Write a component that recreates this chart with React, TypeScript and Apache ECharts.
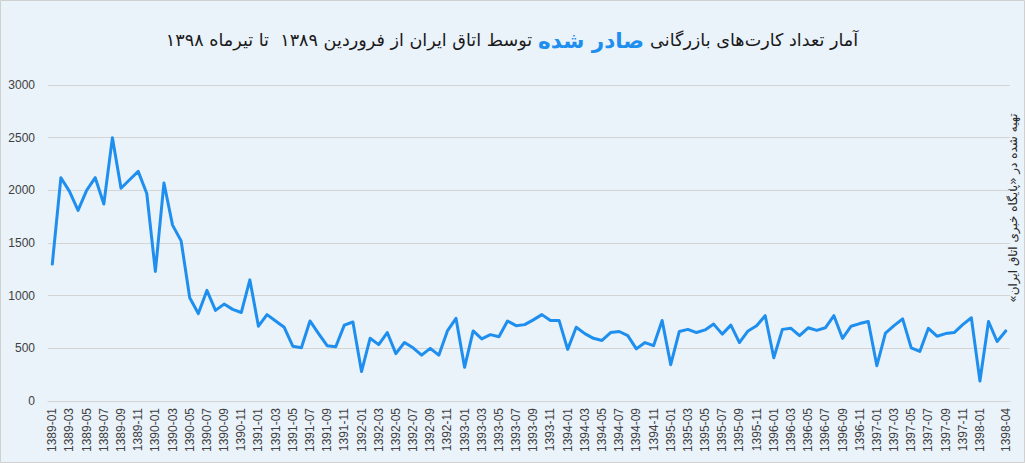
import React, { useEffect, useRef } from "react";
import * as echarts from "echarts";

const YEARS = [1389, 1390, 1391, 1392, 1393, 1394, 1395, 1396, 1397, 1398];
const LAST_MONTH_1398 = 4;

function buildMonths(): string[] {
  const out: string[] = [];
  for (const y of YEARS) {
    const maxM = y === 1398 ? LAST_MONTH_1398 : 12;
    for (let m = 1; m <= maxM; m++) out.push(`${y}-${m < 10 ? "0" + m : m}`);
  }
  return out;
}
const categories = buildMonths();

const issuedCards = [
  1300, 2120, 1990, 1810, 2000, 2120, 1870, 2500, 2020, 2100, 2180, 1970,
  1230, 2070, 1670, 1520, 980, 830, 1050, 860, 920, 870, 840, 1150,
  710, 820, 760, 700, 520, 505, 760, 640, 525, 515, 720, 750,
  280, 595, 535, 650, 450, 555, 505, 435, 500, 435, 665, 785,
  320, 665, 590, 630, 610, 760, 715, 725, 770, 820, 765, 765,
  490, 700, 640, 595, 575, 650, 660, 620, 495, 555, 525, 765,
  345, 660, 680, 650, 675, 730, 635, 720, 555, 665, 715, 810,
  410, 680, 690, 620, 695, 670, 695, 810, 595, 710, 735, 755,
  335, 645, 715, 780, 505, 470, 690, 615, 640, 650, 725, 790,
  190, 755, 565, 665,
];

const yTicks = { min: 0, max: 3000, interval: 500 };

const RLM = "\u200F";
// Persian (RTL) title: start part sits at the right, end part at the left
const titleStart = "آمار تعداد کارت‌های بازرگانی";
const titleHighlight = "صادر شده";
const titleEnd = "توسط اتاق ایران از فروردین ۱۳۸۹  تا تیرماه ۱۳۹۸";
const sourceNote = "تهیه شده در «پایگاه خبری اتاق ایران»";

export default function App() {
  const ref = useRef<HTMLDivElement>(null);
  useEffect(() => {
    if (!ref.current) return;
    const chart = echarts.init(ref.current, undefined, { renderer: "svg" });
    const axisFont = "Liberation Sans, Arial, sans-serif";
    const faFont = "DejaVu Sans, Noto Sans, sans-serif";
    chart.setOption({
      animation: false,
      backgroundColor: "#EAF2FA",
      grid: { left: 48, right: 15, top: 85, bottom: 62, containLabel: false },
      xAxis: {
        type: "category",
        data: categories,
        boundaryGap: true,
        axisLine: { show: true, lineStyle: { color: "#D4D4D4", width: 1 } },
        axisTick: { show: false },
        axisLabel: {
          rotate: 90,
          margin: 7,
          fontSize: 12,
          color: "#404040",
          fontFamily: axisFont,
          interval: (i: number) => (i % 2 === 0 && i !== 110) || i === 111,
        },
        splitLine: { show: false },
      },
      yAxis: {
        type: "value",
        min: yTicks.min,
        max: yTicks.max,
        interval: yTicks.interval,
        axisLine: { show: false },
        axisTick: { show: false },
        axisLabel: {
          margin: 13,
          fontSize: 12,
          color: "#404040",
          fontFamily: axisFont,
          formatter: (v: number) => String(v),
        },
        splitLine: { lineStyle: { color: "#D4D4D4", width: 1 } },
      },
      series: [
        {
          type: "line",
          data: issuedCards,
          symbol: "none",
          lineStyle: { color: "#1E8FEF", width: 3, join: "round", cap: "round" },
          itemStyle: { color: "#1E8FEF" },
        },
      ],
      graphic: [
        {
          type: "rect",
          silent: true,
          shape: { x: 0.5, y: 0.5, width: 1024, height: 462 },
          style: { fill: "none", stroke: "#D0D0D0", lineWidth: 1 },
        },
        {
          type: "text",
          x: 512,
          y: 40,
          style: {
            text: `{a|${titleEnd}}{b|${titleHighlight}}{a|${titleStart}}`,
            align: "center",
            verticalAlign: "middle",
            rich: {
              a: { fontSize: 17.6, fontFamily: faFont, fill: "#1A1A1A" },
              b: {
                fontSize: 21.5,
                fontWeight: "bold",
                fontFamily: faFont,
                fill: "#1E8FEF",
                padding: [0, 6, 0, 6],
              },
            },
          },
        },
        {
          type: "text",
          x: 1013,
          y: 208,
          rotation: Math.PI / 2,
          style: {
            text: sourceNote + RLM,
            align: "center",
            verticalAlign: "middle",
            fontSize: 12,
            fontFamily: faFont,
            fill: "#262626",
          },
        },
      ],
    });
    return () => chart.dispose();
  }, []);
  return (
    <div
      ref={ref}
      style={{ position: "absolute", left: 0, top: 0, width: 1025, height: 463 }}
    />
  );
}
